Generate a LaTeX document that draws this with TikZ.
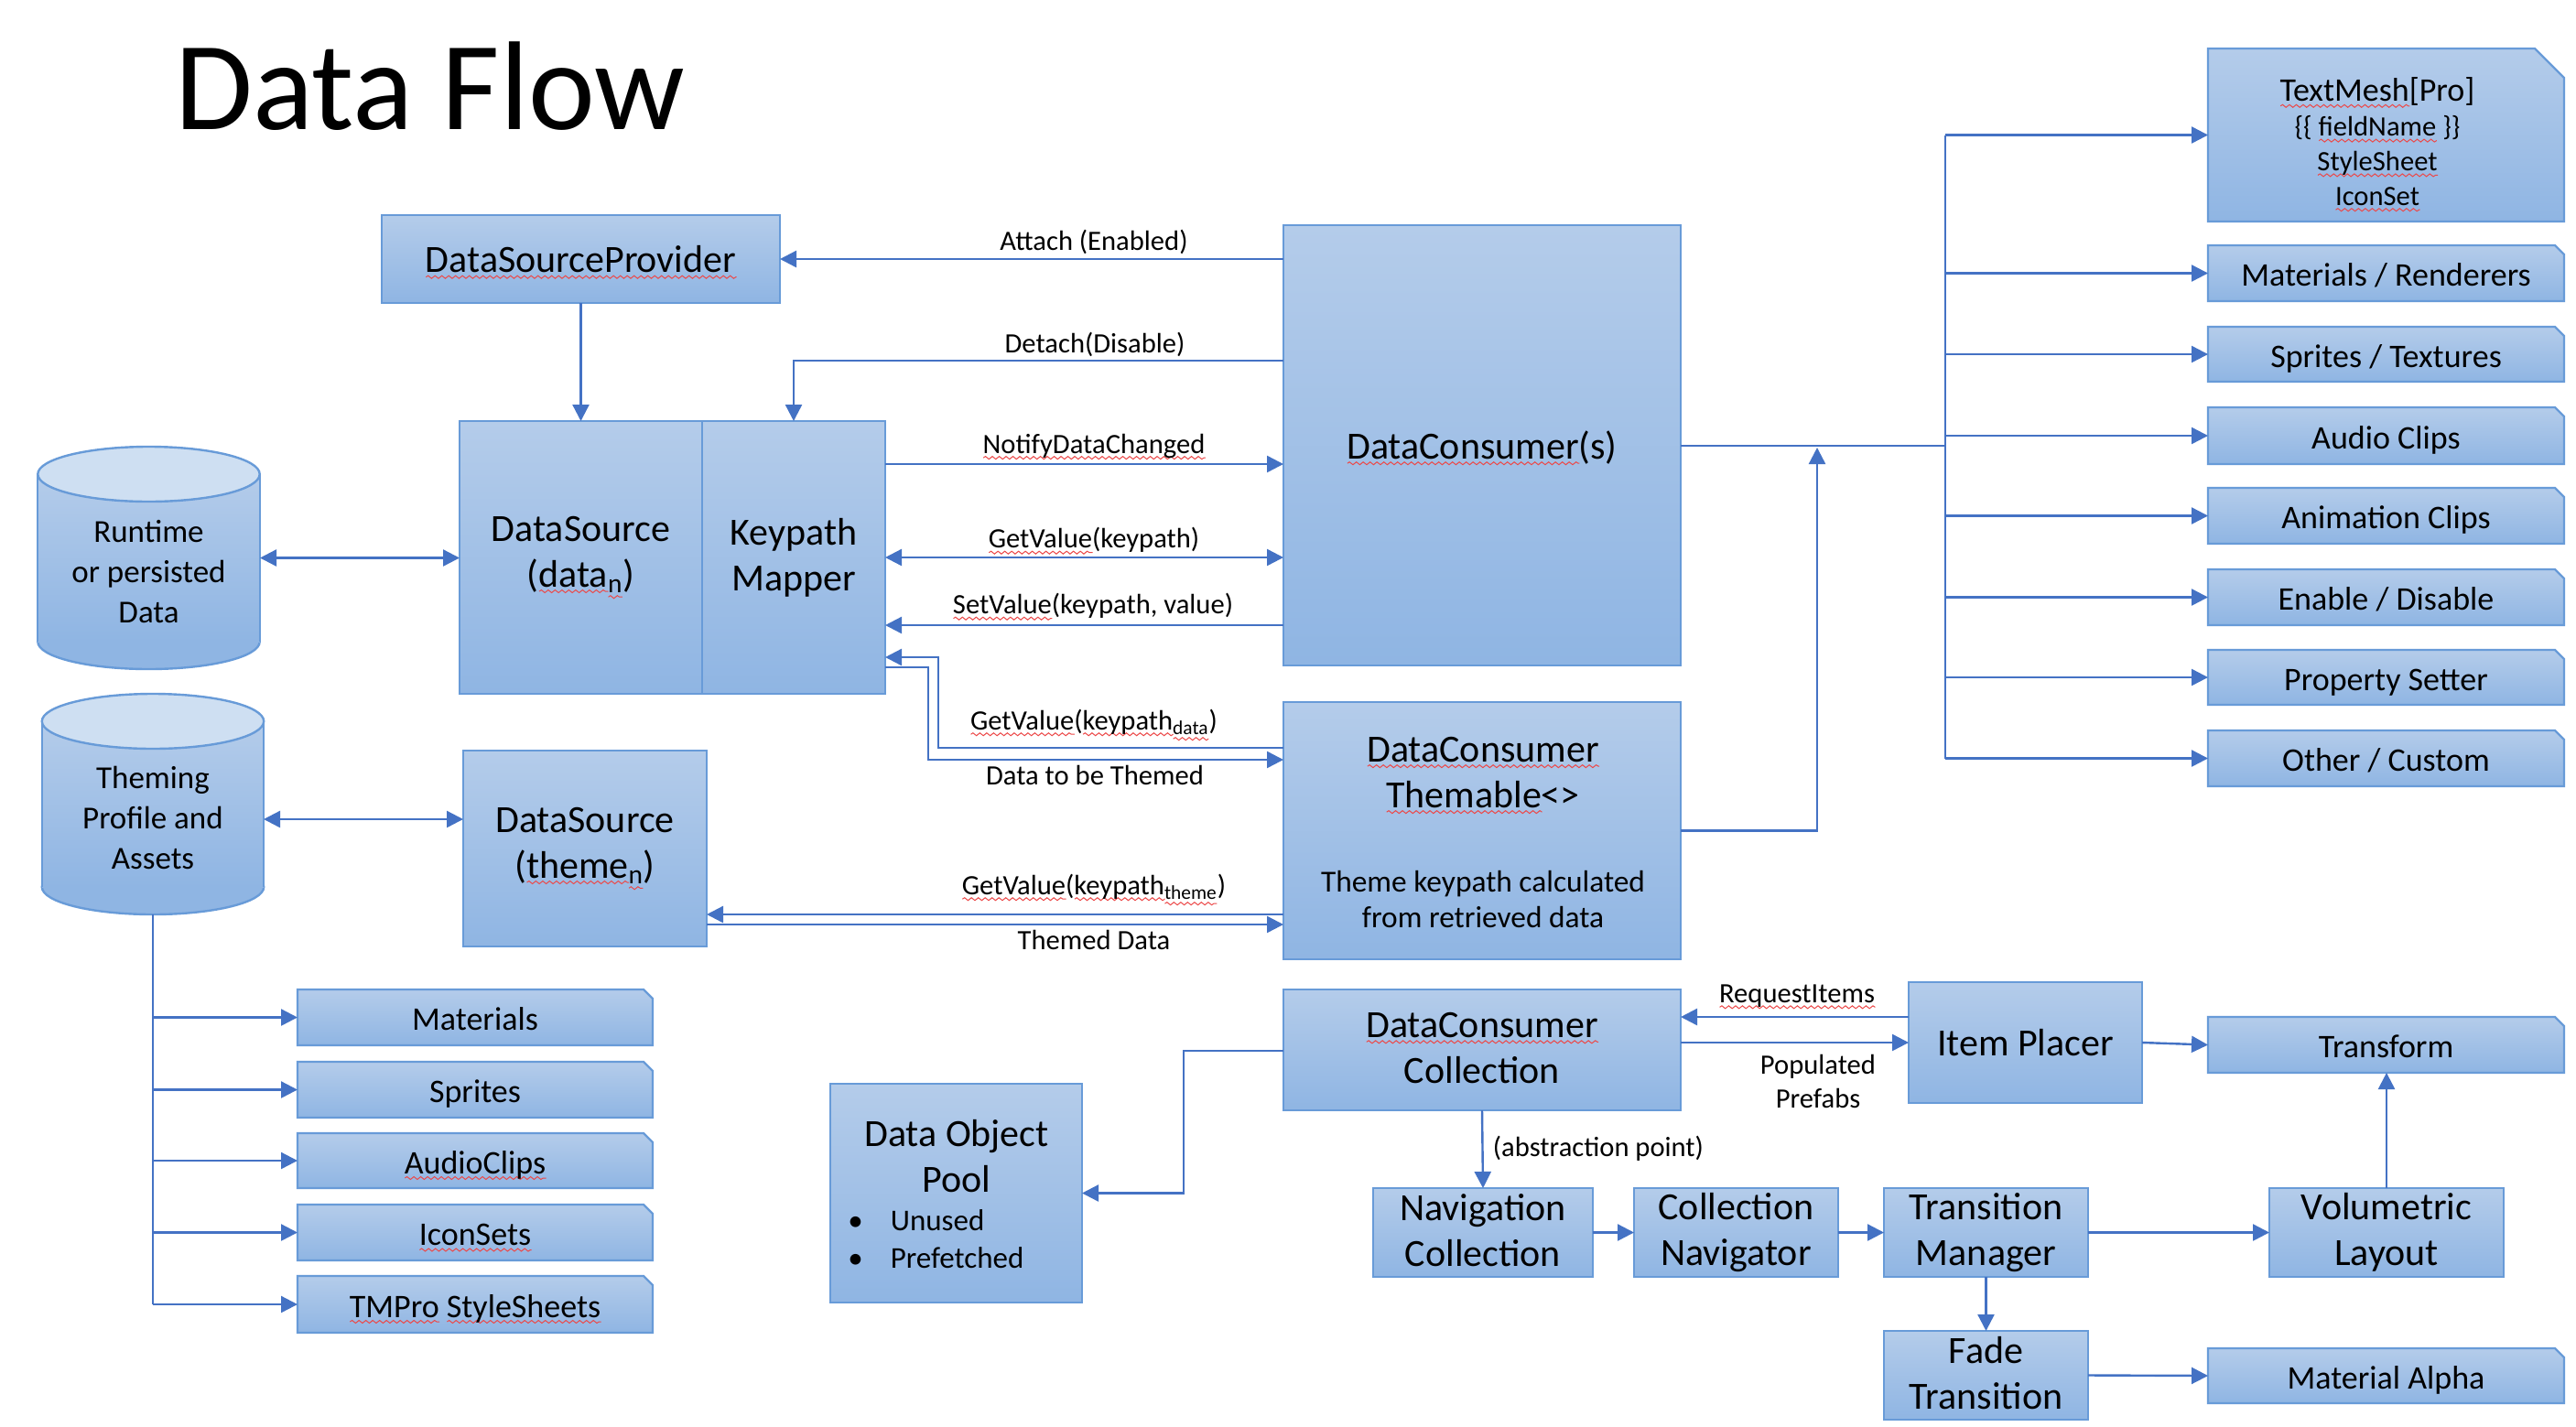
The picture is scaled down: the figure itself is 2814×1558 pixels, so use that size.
\documentclass[tikz,border=0pt]{standalone}
\usepackage{fontspec}
\setmainfont{Carlito}
\usetikzlibrary{arrows.meta,decorations.pathmorphing}
\pgfdeclarelayer{background}
\pgfsetlayers{background,main}
\definecolor{boxtop}{RGB}{180,204,234}
\definecolor{boxbot}{RGB}{143,181,227}
\definecolor{boxline}{RGB}{104,155,216}
\definecolor{cyltop}{RGB}{206,223,242}
\definecolor{connc}{RGB}{68,114,196}
\definecolor{squig}{RGB}{236,72,72}
\newdimen\sqw
\newcommand{\sq}[1]{\leavevmode\setbox0=\hbox{#1}\sqw=\wd0\relax\rlap{\raisebox{-2.5pt}{\tikz[baseline=0pt]{\draw[draw=squig, fill=none, line width=0.5pt, decorate, decoration={snake, amplitude=0.75pt, segment length=3.75pt}] (0pt,0pt) -- (\sqw,0pt);}}}\box0\relax}
\tikzset{
  boxshade/.style={draw=boxline, line width=1.2pt, top color=boxtop, bottom color=boxbot},
  rboxbase/.style={boxshade, rectangle, inner sep=0pt, outer sep=0pt, align=center, font=\fontsize{21}{25}\selectfont},
  rbox/.style={rboxbase, execute at begin node={\rule{0pt}{19.6pt}}, execute at end node={\rule[-4.9pt]{0pt}{4.9pt}}},
  rbox2/.style={rboxbase, execute at begin node={\rule{0pt}{22.5pt}}, execute at end node={\rule[-2.3pt]{0pt}{2.3pt}}},
  sbox/.style={rectangle, inner sep=0pt, outer sep=0pt, align=center, font=\fontsize{18}{22}\selectfont, execute at begin node={\rule{0pt}{18pt}}, execute at end node={\rule[-4pt]{0pt}{4pt}}},
  cylnode/.style={rectangle, inner sep=0pt, outer sep=0pt},
  cyltext/.style={inner sep=0pt, align=center, font=\fontsize{17.5}{22}\selectfont},
  txt/.style={inner sep=0pt, align=center},
  lbl/.style={inner sep=0pt, align=center, font=\fontsize{15.3}{18.5}\selectfont},
  titlestyle/.style={inner sep=0pt, font=\fontsize{69}{76}\selectfont},
  conn/.style={draw=connc, line width=1.2pt},
  fwd/.style={-{Triangle[length=9pt,width=9pt]}},
  both/.style={{Triangle[length=9pt,width=9pt]}-{Triangle[length=9pt,width=9pt]}}
}
\newcommand{\placebox}[7]{\node[#1, minimum width={(#5-#3)*0.5pt}, minimum height={(#6-#4)*0.5pt}] (#2) at ({(#3+#5)/2},{(#4+#6)/2}) {#7};}
\newcommand{\snipshape}[2]{\path[boxshade] (#1.south west) -- (#1.north west) -- ([xshift=-#2]#1.north east) -- ([yshift=-#2]#1.north east) -- (#1.south east) -- cycle;}
\newcommand{\cylshape}[1]{%
  \path[draw=boxline, line width=1.2pt, fill=boxbot] ([yshift=15pt]#1.south) ellipse [x radius=60.6pt, y radius=15pt];
  \path[top color=boxtop, bottom color=boxbot] ([yshift=-15pt]#1.north west) rectangle ([yshift=15pt]#1.south east);
  \draw[boxline, line width=1.2pt] ([yshift=-15pt]#1.north west) -- ([yshift=15pt]#1.south west) ([yshift=-15pt]#1.north east) -- ([yshift=15pt]#1.south east);
  \path[draw=boxline, line width=1.2pt, fill=cyltop] ([yshift=-15pt]#1.north) ellipse [x radius=60.6pt, y radius=15pt];}
\begin{document}
\begin{tikzpicture}[x=0.5pt, y=-0.5pt]
\useasboundingbox (0,0) rectangle (2814,1558);

% title
\node[titlestyle, anchor=base] (title) at (470,141) {Data Flow};

% main boxes
\placebox{rbox}{dsp}{417}{235}{852}{331}{\sq{DataSourceProvider}}
\placebox{rbox}{dcs}{1402}{246}{1836}{727}{\sq{DataConsumer}(s)}
\placebox{rbox2}{ds}{502}{460}{767}{758}{DataSource\\(\sq{data}\textsubscript{\sq{n}})}
\placebox{rbox2}{km}{767}{460}{967}{758}{Keypath\\Mapper}
\placebox{rbox2}{dst}{506}{820}{772}{1034}{DataSource\\(\sq{theme}\textsubscript{\sq{n}})}
\placebox{rbox}{dct}{1402}{767}{1836}{1048}{}
\placebox{rbox2}{dcc}{1402}{1081}{1836}{1213}{\sq{DataConsumer}\\Collection}
\placebox{rbox}{ip}{2085}{1073}{2340}{1205}{Item Placer}
\placebox{rbox}{dop}{907}{1184}{1182}{1423}{}
\placebox{rbox2}{nc}{1500}{1298}{1740}{1395}{Navigation\\Collection}
\placebox{rbox2}{cn}{1785}{1298}{2008}{1395}{Collection\\Navigator}
\placebox{rbox2}{tmg}{2058}{1298}{2281}{1395}{Transition\\Manager}
\placebox{rbox2}{vl}{2479}{1298}{2735}{1395}{Volumetric\\Layout}
\placebox{rbox2}{ft}{2058}{1454}{2281}{1551}{Fade\\Transition}

% texts inside composite boxes
\node[txt, font=\fontsize{21}{25}\selectfont] (dctt) at (1620,847) {\sq{DataConsumer}\\\sq{Themable}<>};
\node[txt, font=\fontsize{16.7}{19.5}\selectfont] (dctb) at (1620,983) {Theme keypath calculated\\from retrieved data};
\node[txt, font=\fontsize{21}{25}\selectfont] (dopt) at (1045,1263) {Data Object\\Pool};
\node[txt, anchor=west, font=\fontsize{16.5}{20.5}\selectfont] (dopl) at (926,1357) {\begin{tabular}{@{}l@{\hspace{15pt}}l@{}}\textbullet & Unused\\ \textbullet & Prefetched\end{tabular}};

% snipped boxes
\placebox{sbox}{tm}{2412}{53}{2801}{242}{}
\node[txt, font=\fontsize{15.3}{18.9}\selectfont] (tmt) at (2597,158) {{\fontsize{18}{18.9}\selectfont\sq{TextMesh}[Pro]}\\\{\{ \sq{fieldName} \}\}\\\sq{StyleSheet}\\\sq{IconSet}};
\placebox{sbox}{mr}{2412}{268}{2801}{329}{Materials / Renderers}
\placebox{sbox}{st}{2412}{357}{2801}{417}{Sprites / Textures}
\placebox{sbox}{ac}{2412}{445}{2801}{507}{Audio Clips}
\placebox{sbox}{anc}{2412}{533}{2801}{594}{Animation Clips}
\placebox{sbox}{ed}{2412}{622}{2801}{683}{Enable / Disable}
\placebox{sbox}{ps}{2412}{710}{2801}{770}{Property Setter}
\placebox{sbox}{oc}{2412}{798}{2801}{859}{Other / Custom}
\placebox{sbox}{tf}{2412}{1111}{2801}{1172}{Transform}
\placebox{sbox}{ma}{2412}{1473}{2801}{1533}{Material Alpha}
\placebox{sbox}{mat}{325}{1081}{713}{1142}{Materials}
\placebox{sbox}{spr}{325}{1160}{713}{1221}{Sprites}
\placebox{sbox}{aud}{325}{1238}{713}{1298}{\sq{AudioClips}}
\placebox{sbox}{ico}{325}{1316}{713}{1377}{\sq{IconSets}}
\placebox{sbox}{tmp}{325}{1394}{713}{1456}{\sq{TMPro} \sq{StyleSheets}}

% cylinders
\placebox{cylnode}{rt}{41}{488}{284}{731}{}
\placebox{cylnode}{tp}{46}{758}{288}{999}{}
\node[cyltext] (rtt) at (162.5,625) {Runtime\\or persisted\\Data};
\node[cyltext] (tpt) at (167,893) {Theming\\Profile and\\Assets};

\begin{pgfonlayer}{background}
  \fill[white] (0,0) rectangle (2814,1558);
  \foreach \n in {mr,st,ac,anc,ed,ps,oc,tf,ma,mat,spr,aud,ico,tmp} {\snipshape{\n}{5pt}}
  \snipshape{tm}{16pt}
  \cylshape{rt}
  \cylshape{tp}
\end{pgfonlayer}

% connectors
\draw[conn, fwd] (dcs.west |- dsp.east) -- (dsp.east);
\draw[conn, fwd] (dcs.west |- 0,394) -| (km.north);
\draw[conn, fwd] (dsp.south) -- (ds.north);
\draw[conn, fwd] (km.east |- 0,507) -- (dcs.west |- 0,507);
\draw[conn, both] (km.east) -- (dcs.west |- km.east);
\draw[conn, fwd] (dcs.west |- 0,683) -- (km.east |- 0,683);
\draw[conn, fwd] (dct.west |- 0,817) -| (1025,718) -- (km.east |- 0,718);
\draw[conn, fwd] (km.east |- 0,729) -| (1014,830) -- (dct.west |- 0,830);
\draw[conn, fwd] (dct.west |- 0,999) -- (dst.east |- 0,999);
\draw[conn, fwd] (dst.east |- 0,1010) -- (dct.west |- 0,1010);
\draw[conn, both] (rt.east) -- (ds.west |- rt.east);
\draw[conn, both] (tp.east |- 0,895) -- (dst.west |- 0,895);
\draw[conn] (tp.south) -- (tp.south |- tmp.west);
\foreach \n in {mat,spr,aud,ico,tmp} {\draw[conn, fwd] (tp.south |- \n.west) -- (\n.west);}
\coordinate (bus) at (2125,487);
\draw[conn] (dcs.east |- bus) -- (bus);
\draw[conn] (bus |- tm.west) -- (bus |- oc.west);
\foreach \n in {tm,mr,st,ac,anc,ed,ps,oc} {\draw[conn, fwd] (bus |- \n.west) -- (\n.west);}
\coordinate (busjoin) at (1985,489);
\draw[conn, fwd] (dct.east) -| (busjoin);
\draw[conn, fwd] (ip.west |- 0,1111) -- (dcc.east |- 0,1111);
\draw[conn, fwd] (dcc.east |- 0,1139) -- (ip.west |- 0,1139);
\draw[conn, fwd] (ip.east) -- (tf.west);
\draw[conn, fwd] (dcc.south) -- (nc.north);
\draw[conn, fwd] (dcc.west |- 0,1148) -| (1293,1303.5) -- (dop.east);
\draw[conn, fwd] (nc.east) -- (cn.west);
\draw[conn, fwd] (cn.east) -- (tmg.west);
\draw[conn, fwd] (tmg.east) -- (vl.west);
\draw[conn, fwd] (vl.north) -- (tf.south -| vl.north);
\draw[conn, fwd] (tmg.south) -- (ft.north);
\draw[conn, fwd] (ft.east) -- (ma.west);

% connector labels
\node[lbl] (lat) at (1195,264) {Attach (Enabled)};
\node[lbl] (ldt) at (1196,376) {Detach(Disable)};
\node[lbl] (lnd) at (1195,488) {\sq{NotifyDataChanged}};
\node[lbl] (lgv) at (1195,591) {\sq{GetValue}(keypath)};
\node[lbl] (lsv) at (1194,663) {\sq{SetValue}(keypath, value)};
\node[lbl] (lgd) at (1195,792) {\sq{GetValue}(\sq{keypath}\textsubscript{\sq{data}})};
\node[lbl] (ldb) at (1196,847) {Data to be Themed};
\node[lbl] (lgt) at (1195,972) {\sq{GetValue}(\sq{keypath}\textsubscript{\sq{theme}})};
\node[lbl] (ltd) at (1195,1027) {Themed Data};
\node[lbl] (lri) at (1963,1089) {\sq{RequestItems}};
\node[lbl] (lpp) at (1986,1181) {Populated\\Prefabs};
\node[lbl] (lab) at (1746,1255) {(abstraction point)};
\end{tikzpicture}
\end{document}
